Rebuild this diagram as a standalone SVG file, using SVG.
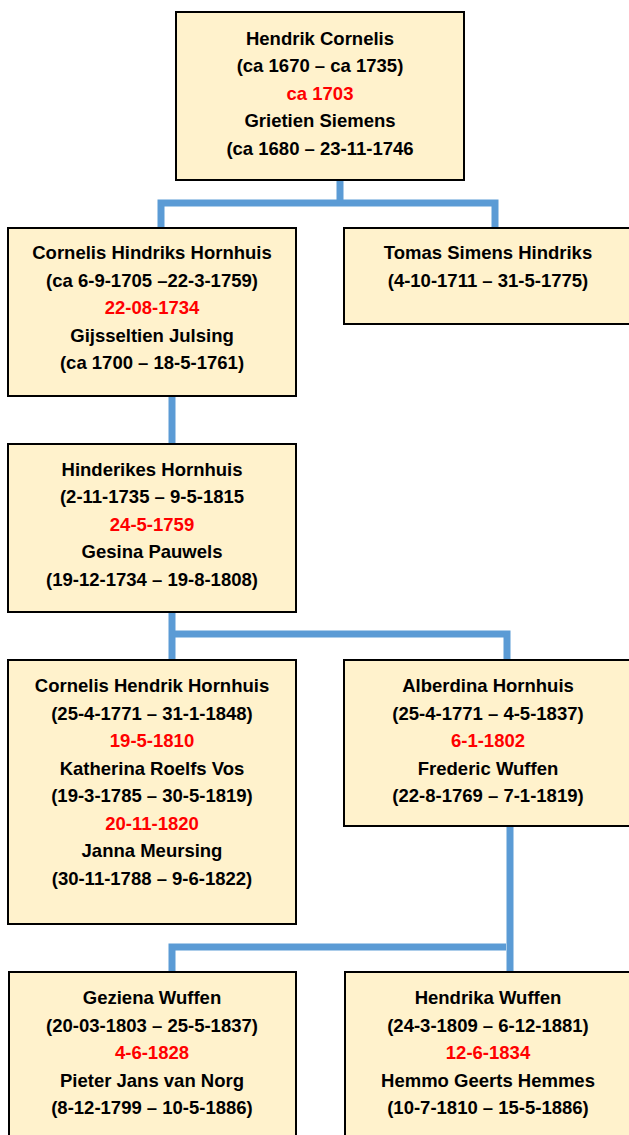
<svg xmlns="http://www.w3.org/2000/svg" width="629" height="1135" viewBox="0 0 629 1135">
<style>
.box{fill:#FFF2CC;stroke:#000;stroke-width:2}
text{font-family:"Liberation Sans",Arial,sans-serif;font-weight:bold;font-size:18.5px;text-anchor:middle;fill:#000}
.red{fill:#FF0000}
.con{fill:none;stroke:#5B9BD5;stroke-width:7}
</style>
<rect width="629" height="1135" fill="#fff"/>
<g id="connectors">
<path class="con" d="M340,180 V203"/>
<path class="con" d="M161,228 V203 H495 V228"/>
<path class="con" d="M172,396 V444"/>
<path class="con" d="M172,612 V660"/>
<path class="con" d="M172,634 H507 V660"/>
<path class="con" d="M510,826 V972"/>
<path class="con" d="M172,972 V947 H506"/>
</g>
<g id="n_hendrik">
<rect class="box" x="176" y="12" width="288" height="168"/>
<text x="320" y="44.5">Hendrik Cornelis</text>
<text x="320" y="72">(ca 1670 – ca 1735)</text>
<text x="320" y="99.5" class="red">ca 1703</text>
<text x="320" y="127">Grietien Siemens</text>
<text x="320" y="154.5">(ca 1680 – 23-11-1746</text>
</g>
<g id="n_cornelis_hindriks">
<rect class="box" x="8" y="228" width="288" height="168"/>
<text x="152" y="259">Cornelis Hindriks Hornhuis</text>
<text x="152" y="286.5">(ca 6-9-1705 –22-3-1759)</text>
<text x="152" y="314" class="red">22-08-1734</text>
<text x="152" y="341.5">Gijsseltien Julsing</text>
<text x="152" y="369">(ca 1700 – 18-5-1761)</text>
</g>
<g id="n_tomas">
<rect class="box" x="344" y="228" width="288" height="96"/>
<text x="488" y="259">Tomas Simens Hindriks</text>
<text x="488" y="286.5">(4-10-1711 – 31-5-1775)</text>
</g>
<g id="n_hinderikes">
<rect class="box" x="8" y="444" width="288" height="168"/>
<text x="152" y="475.5">Hinderikes Hornhuis</text>
<text x="152" y="503">(2-11-1735 – 9-5-1815</text>
<text x="152" y="530.5" class="red">24-5-1759</text>
<text x="152" y="558">Gesina Pauwels</text>
<text x="152" y="585.5">(19-12-1734 – 19-8-1808)</text>
</g>
<g id="n_cornelis_hendrik">
<rect class="box" x="8" y="660" width="288" height="264"/>
<text x="152" y="692">Cornelis Hendrik Hornhuis</text>
<text x="152" y="719.5">(25-4-1771 – 31-1-1848)</text>
<text x="152" y="747" class="red">19-5-1810</text>
<text x="152" y="774.5">Katherina Roelfs Vos</text>
<text x="152" y="802">(19-3-1785 – 30-5-1819)</text>
<text x="152" y="829.5" class="red">20-11-1820</text>
<text x="152" y="857">Janna Meursing</text>
<text x="152" y="884.5">(30-11-1788 – 9-6-1822)</text>
</g>
<g id="n_alberdina">
<rect class="box" x="344" y="660" width="288" height="166"/>
<text x="488" y="692">Alberdina Hornhuis</text>
<text x="488" y="719.5">(25-4-1771 – 4-5-1837)</text>
<text x="488" y="747" class="red">6-1-1802</text>
<text x="488" y="774.5">Frederic Wuffen</text>
<text x="488" y="802">(22-8-1769 – 7-1-1819)</text>
</g>
<g id="n_geziena">
<rect class="box" x="9" y="972" width="287" height="175"/>
<text x="152" y="1004">Geziena Wuffen</text>
<text x="152" y="1031.5">(20-03-1803 – 25-5-1837)</text>
<text x="152" y="1059" class="red">4-6-1828</text>
<text x="152" y="1086.5">Pieter Jans van Norg</text>
<text x="152" y="1114">(8-12-1799 – 10-5-1886)</text>
</g>
<g id="n_hendrika">
<rect class="box" x="345" y="972" width="287" height="175"/>
<text x="488" y="1004">Hendrika Wuffen</text>
<text x="488" y="1031.5">(24-3-1809 – 6-12-1881)</text>
<text x="488" y="1059" class="red">12-6-1834</text>
<text x="488" y="1086.5">Hemmo Geerts Hemmes</text>
<text x="488" y="1114">(10-7-1810 – 15-5-1886)</text>
</g>
</svg>
